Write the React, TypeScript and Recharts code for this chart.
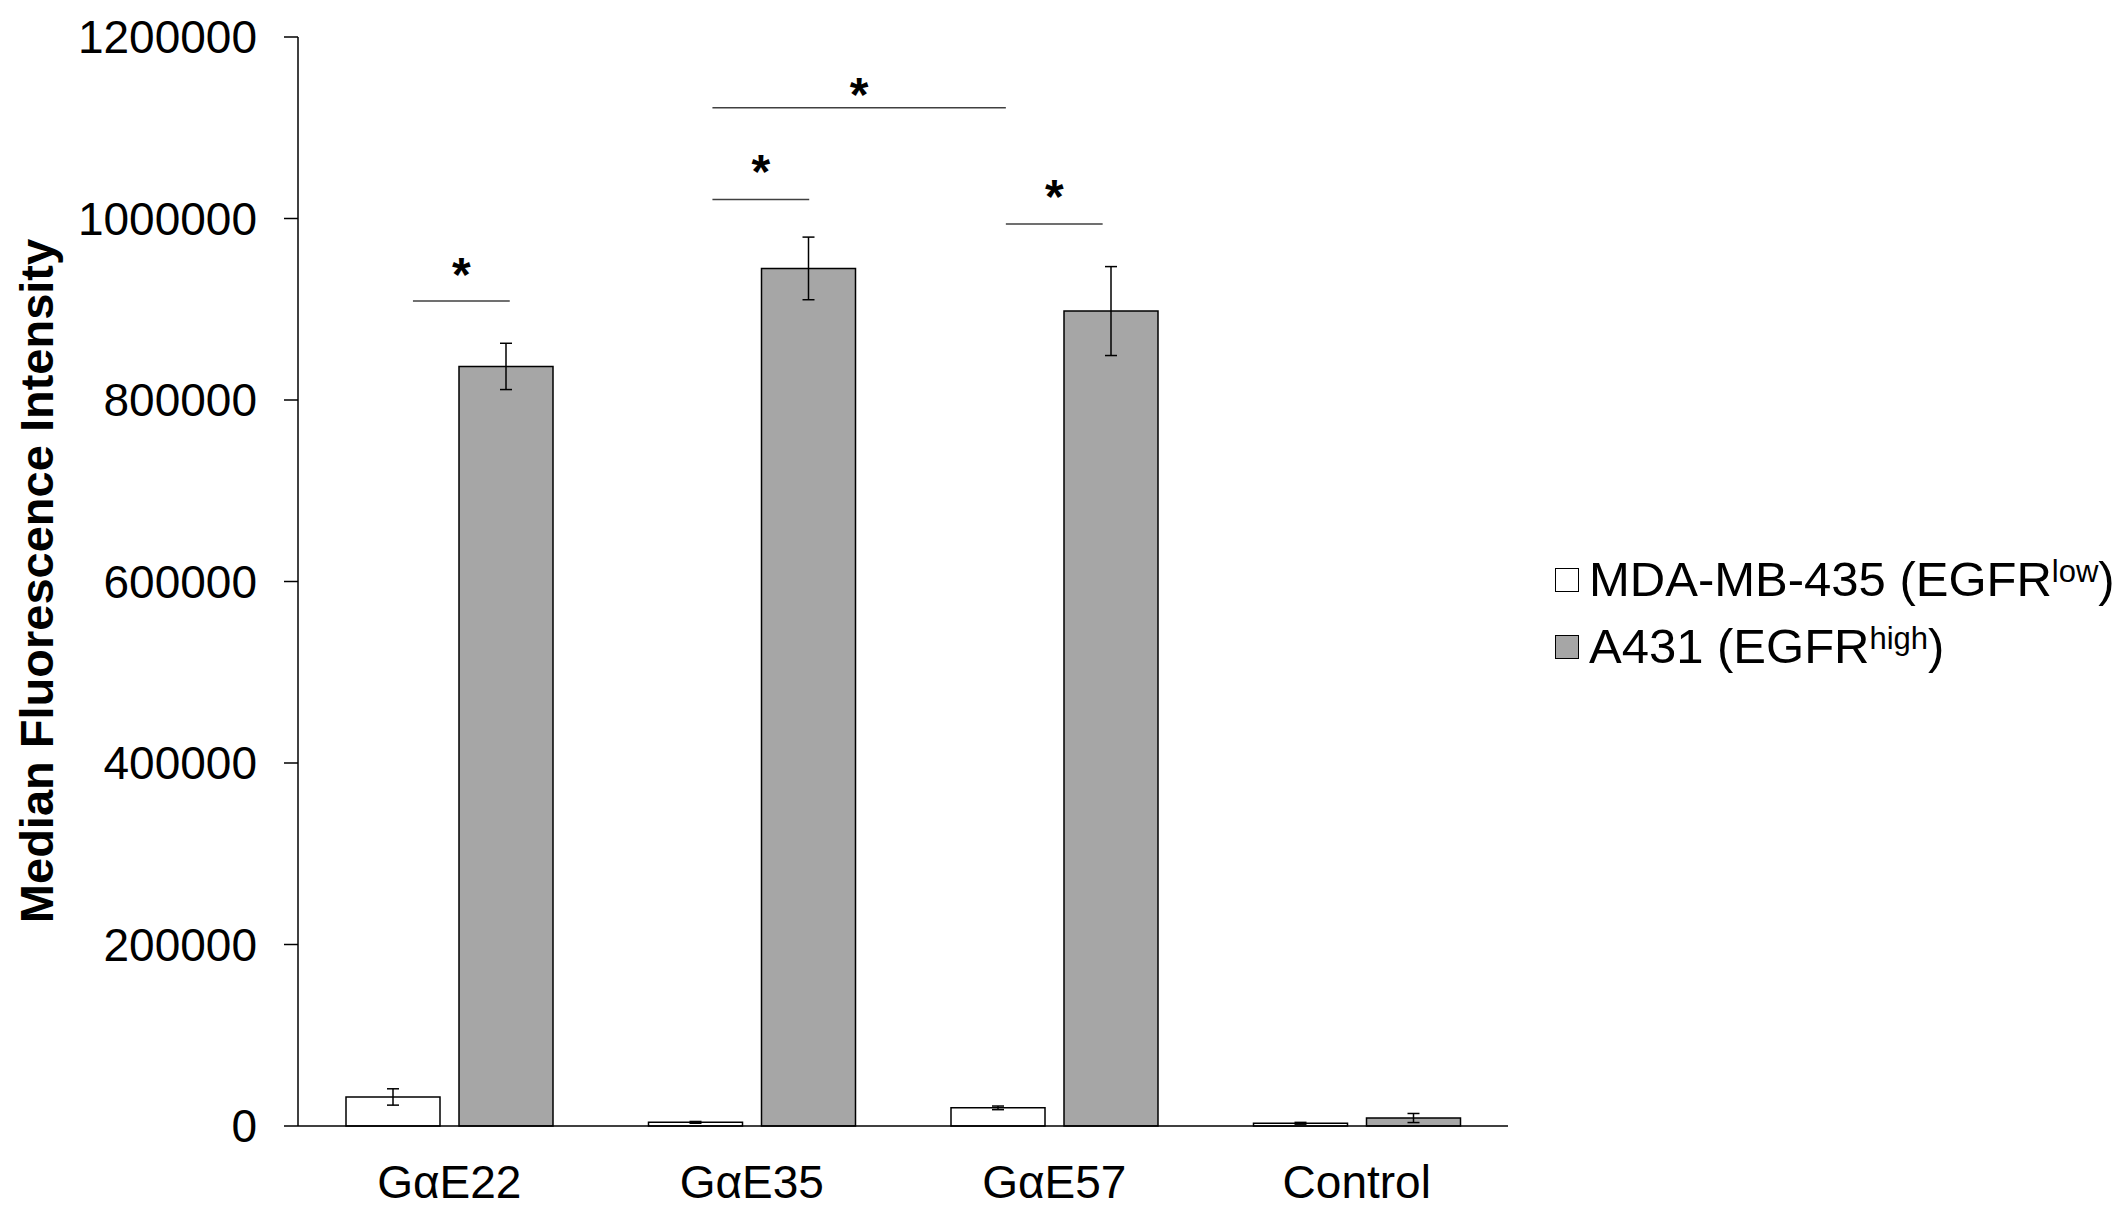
import { Bar, BarChart, ErrorBar, Legend, ReferenceLine, XAxis, YAxis } from "recharts"

const FONT = "'Liberation Sans', Arial, sans-serif"

const categories = ["GαE22", "GαE35", "GαE57", "Control"]
const lowValues = [32000, 4000, 20000, 3000]
const lowErrors = [9000, 1000, 2000, 1000]
const highValues = [837000, 945000, 898000, 8800]
const highErrors = [25500, 34500, 49000, 5000]
const yTicks = [0, 200000, 400000, 600000, 800000, 1000000, 1200000]

// significance bars: x in category units (0..4), y in data units
const brackets = [
  { from: 0.38, to: 0.7, level: 909000, lift: 31 },
  { from: 1.37, to: 1.69, level: 1021000, lift: 32 },
  { from: 1.37, to: 2.34, level: 1122000, lift: 18 },
  { from: 2.34, to: 2.66, level: 994000, lift: 32 }
]

const data = categories.map((name, i) => ({
  name,
  pos: i + 0.5,
  low: lowValues[i],
  lowErr: lowErrors[i],
  high: highValues[i],
  highErr: highErrors[i]
}))

const starLabel = (lift: number) => (props: any) => {
  const { x, y, width } = props.viewBox
  return (
    <text
      x={x + width / 2}
      y={y - lift + 21}
      textAnchor="middle"
      fontSize={48}
      fontWeight="bold"
      fontFamily={FONT}
      fill="#000"
    >
      *
    </text>
  )
}

function LegendBox() {
  const row = { display: "flex", alignItems: "center", height: 67 }
  const box = (fill: string) => ({
    width: 24,
    height: 24,
    boxSizing: "border-box" as const,
    border: "1.5px solid #000",
    background: fill,
    marginRight: 10
  })
  const sup = { fontSize: 31, verticalAlign: "top", position: "relative" as const, top: 1 }
  return (
    <div style={{ fontFamily: FONT, fontSize: 49, color: "#000", lineHeight: 1 }}>
      <div style={row}>
        <div style={box("#ffffff")} />
        <span>
          MDA-MB-435 (EGFR<span style={sup}>low</span>)
        </span>
      </div>
      <div style={row}>
        <div style={box("#a6a6a6")} />
        <span>
          A431 (EGFR<span style={sup}>high</span>)
        </span>
      </div>
    </div>
  )
}

export default function App() {
  return (
    <div style={{ position: "absolute", left: 0, top: 0, background: "#fff" }}>
      <BarChart
        width={2123}
        height={1207}
        data={data}
        margin={{ top: 37, right: 615, bottom: 0, left: 0 }}
        barSize={94}
        barGap={19}
      >
        <XAxis
          dataKey="name"
          height={81}
          tickLine={false}
          tickSize={0}
          tickMargin={39}
          axisLine={{ stroke: "#000", strokeWidth: 1.5 }}
          tick={{ fontSize: 46, fill: "#000", fontFamily: FONT }}
        />
        <XAxis
          xAxisId="top"
          dataKey="pos"
          orientation="top"
          type="number"
          domain={[0, 4]}
          allowDataOverflow
          height={0}
          tick={false}
          tickLine={false}
          axisLine={{ stroke: "#000", strokeWidth: 1.5 }}
        />
        <YAxis
          width={298}
          domain={[0, 1200000]}
          ticks={yTicks}
          interval={0}
          tickSize={14}
          tickMargin={27}
          tickLine={{ stroke: "#000", strokeWidth: 1.5 }}
          axisLine={{ stroke: "#000", strokeWidth: 1.5 }}
          tick={{ fontSize: 46, fill: "#000", fontFamily: FONT }}
          label={{
            content: () => (
              <text
                x={53}
                y={581}
                transform="rotate(-90, 53, 581)"
                textAnchor="middle"
                fontSize={47}
                fontWeight="bold"
                fontFamily={FONT}
                fill="#000"
              >
                Median Fluorescence Intensity
              </text>
            )
          }}
        />
        <YAxis
          yAxisId="right"
          orientation="right"
          width={0}
          tick={false}
          tickLine={false}
          axisLine={{ stroke: "#000", strokeWidth: 1.5 }}
        />
        <Legend
          layout="horizontal"
          verticalAlign="middle"
          align="center"
          wrapperStyle={{ left: 1555, top: 546, width: 568 }}
          content={() => <LegendBox />}
        />
        <Bar dataKey="low" fill="#ffffff" stroke="#000" strokeWidth={1.5} isAnimationActive={false}>
          <ErrorBar dataKey="lowErr" width={6} stroke="#000" strokeWidth={1.5} direction="y" />
        </Bar>
        <Bar dataKey="high" fill="#a6a6a6" stroke="#000" strokeWidth={1.5} isAnimationActive={false}>
          <ErrorBar dataKey="highErr" width={6} stroke="#000" strokeWidth={1.5} direction="y" />
        </Bar>
        {brackets.map((b, i) => (
          <ReferenceLine
            key={i}
            xAxisId="top"
            segment={[
              { x: b.from, y: b.level },
              { x: b.to, y: b.level }
            ]}
            stroke="#404040"
            strokeWidth={1.5}
            label={{ content: starLabel(b.lift) }}
          />
        ))}
      </BarChart>
    </div>
  )
}
